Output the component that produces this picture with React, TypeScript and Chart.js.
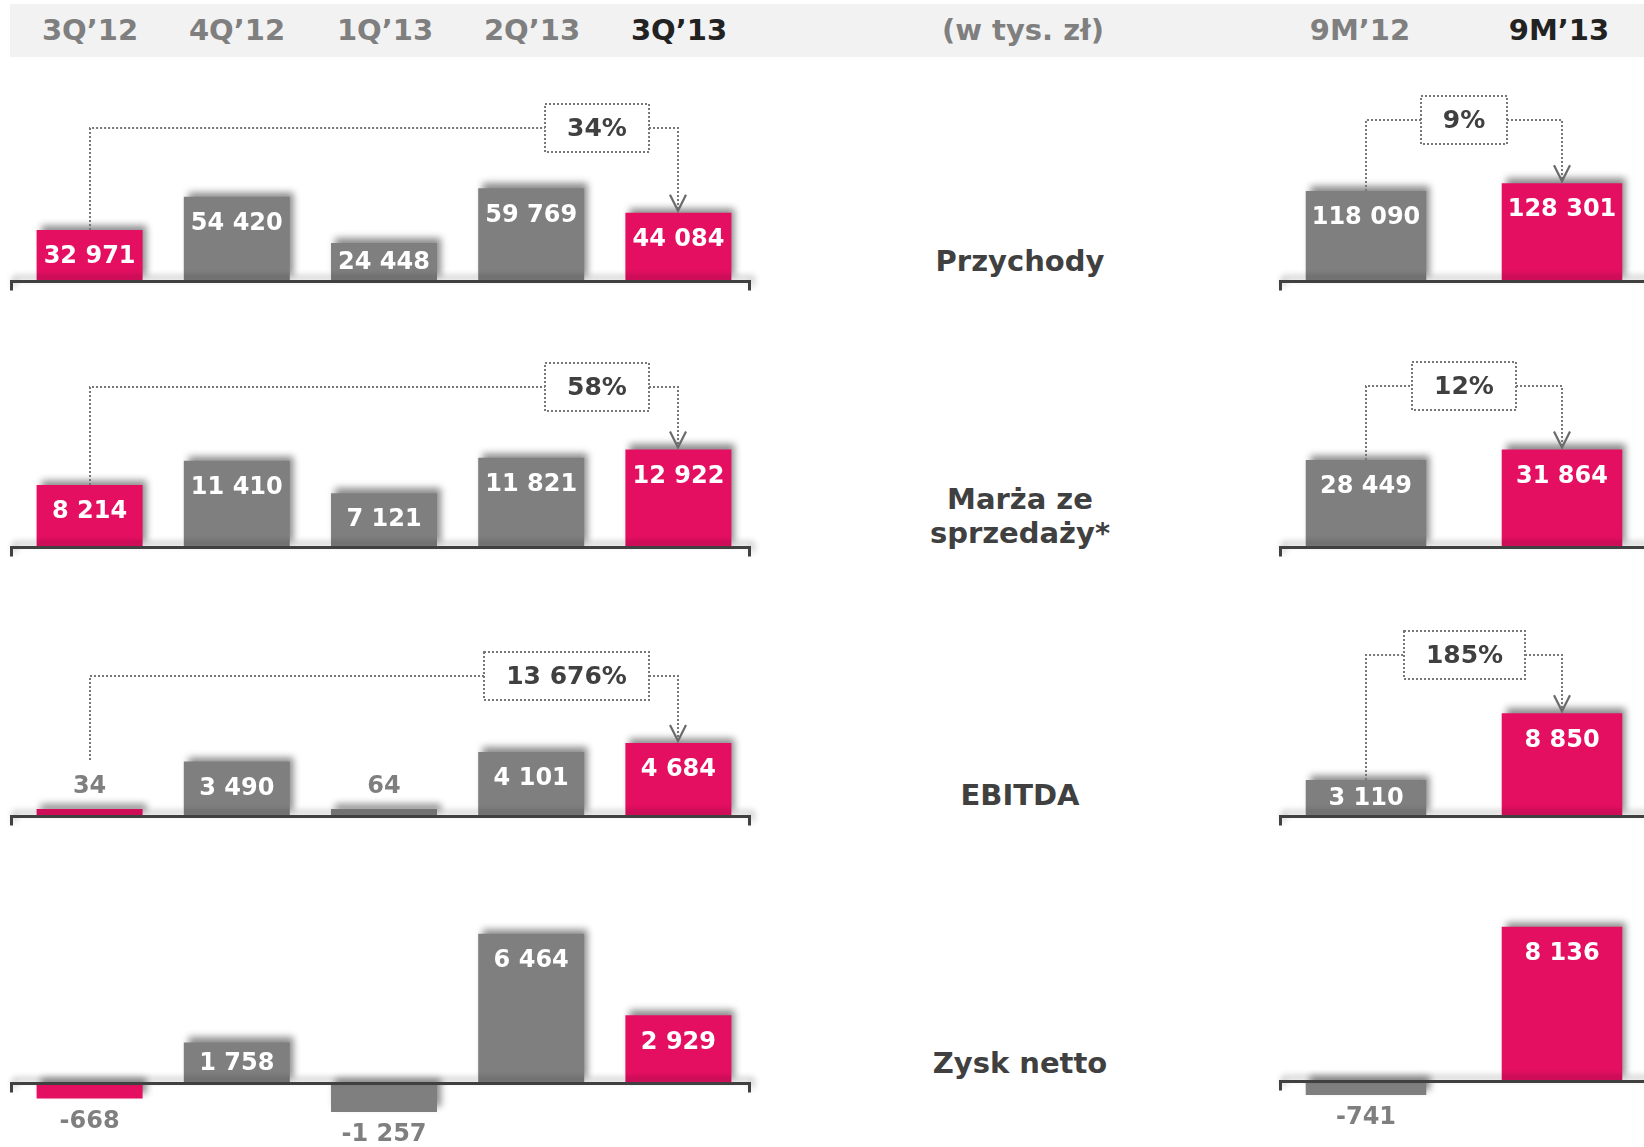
import React, { useEffect, useRef } from "react";
import { Chart, registerables } from "chart.js";

Chart.register(...registerables);

// ---------- data ----------
const quarters = ["3Q’12", "4Q’12", "1Q’13", "2Q’13", "3Q’13"];
const periods = ["9M’12", "9M’13"];
const unitLabel = "(w tys. zł)";
const metricNames = ["Przychody", "Marża ze\nsprzedaży*", "EBITDA", "Zysk netto"];

const revenueQ = [32971, 54420, 24448, 59769, 44084];
const marginQ = [8214, 11410, 7121, 11821, 12922];
const ebitdaQ = [34, 3490, 64, 4101, 4684];
const netQ = [-668, 1758, -1257, 6464, 2929];

const revenue9M = [118090, 128301];
const margin9M = [28449, 31864];
const ebitda9M = [3110, 8850];
const net9M = [-741, 8136];

const changeQ: (string | null)[] = ["34%", "58%", "13 676%", null];
const change9M: (string | null)[] = ["9%", "12%", "185%", null];

// ---------- styles ----------
const PINK = "#E50F62";
const GRAY = "#7F7F7F";
const DARK = "#404040";
const FONT = "'DejaVu Sans', Verdana, sans-serif";
const qColors = [PINK, GRAY, GRAY, GRAY, PINK];
const mColors = [GRAY, PINK];

const fmt = (n: number) => {
  const s = Math.abs(n).toString().replace(/\B(?=(\d{3})+(?!\d))/g, " ");
  return (n < 0 ? "-" : "") + s;
};

type PanelProps = {
  labels: string[];
  values: number[];
  colors: string[];
  left: number;
  top: number;
  width: number;
  height: number;
  padL: number;
  padR: number;
  zeroY: number;
  k: number;
  barFrac: number;
  axisL: number;
  axisR: number;
  rightTick: boolean;
  change: string | null;
  changeY: number;
  boxMode: "right" | "center";
  minBar: number;
};

function BarPanel(p: PanelProps) {
  const ref = useRef<HTMLCanvasElement>(null);
  useEffect(() => {
    const canvas = ref.current!;
    const zeroPx = p.zeroY - p.top;
    const yMax = zeroPx / p.k;
    const yMin = -(p.height - zeroPx) / p.k;

    const shadowPlugin = {
      id: "barShadow",
      beforeDatasetsDraw(chart: any) {
        const ctx = chart.ctx;
        ctx.save();
        ctx.shadowColor = "rgba(0,0,0,0.45)";
        ctx.shadowBlur = 7;
        ctx.shadowOffsetX = 4;
        ctx.shadowOffsetY = -5;
      },
      afterDatasetsDraw(chart: any) {
        chart.ctx.restore();
      },
    };

    const overlayPlugin = {
      id: "overlay",
      afterDraw(chart: any) {
        const ctx = chart.ctx as CanvasRenderingContext2D;
        const area = chart.chartArea;
        const y0 = Math.round(chart.scales.y.getPixelForValue(0)) + 0.5;
        // axis line
        ctx.save();
        ctx.shadowColor = "rgba(0,0,0,0.3)";
        ctx.shadowBlur = 6;
        ctx.shadowOffsetX = 3;
        ctx.shadowOffsetY = -4;
        ctx.strokeStyle = DARK;
        ctx.lineWidth = 3;
        ctx.beginPath();
        const xl = Math.round(area.left + p.axisL) + 0.5;
        const xr = Math.round(area.right + p.axisR) + 0.5;
        ctx.moveTo(xl, y0 + 9);
        ctx.lineTo(xl, y0);
        ctx.lineTo(xr, y0);
        if (p.rightTick) ctx.lineTo(xr, y0 + 9);
        ctx.stroke();
        ctx.restore();

        // value labels
        const meta = chart.getDatasetMeta(0);
        ctx.save();
        ctx.font = `bold 24px ${FONT}`;
        ctx.textAlign = "center";
        ctx.textBaseline = "middle";
        const labelPos: { y: number; outside: boolean }[] = [];
        meta.data.forEach((el: any, i: number) => {
          const v = p.values[i];
          const { x, y, base } = el.getProps(["x", "y", "base"], true);
          const txt = fmt(v);
          if (v < 0) {
            ctx.fillStyle = GRAY;
            ctx.fillText(txt, x, y + 23);
            labelPos.push({ y: y + 23, outside: true });
          } else {
            const h = base - y;
            if (h >= 28) {
              ctx.fillStyle = "#FFFFFF";
              const ly = Math.min(y + 27, (y + base) / 2 + 1);
              ctx.fillText(txt, x, ly);
              labelPos.push({ y: ly, outside: false });
            } else {
              ctx.fillStyle = GRAY;
              ctx.fillText(txt, x, y - 22);
              labelPos.push({ y: y - 22, outside: true });
            }
          }
        });
        ctx.restore();

        // change annotation
        if (p.change) {
          const first = meta.data[0].getProps(["x", "y"], true);
          const lastIdx = meta.data.length - 1;
          const last = meta.data[lastIdx].getProps(["x", "y"], true);
          const x1 = Math.round(first.x);
          const x2 = Math.round(last.x);
          const y1 = labelPos[0].outside && p.values[0] >= 0 ? labelPos[0].y - 27 : first.y;
          const tipY = last.y - 2;
          const ly = Math.round(p.changeY);
          ctx.save();
          ctx.font = `bold 25px ${FONT}`;
          const tw = ctx.measureText(p.change).width;
          const bw = Math.round(tw + 44);
          const bh = 48;
          let bl: number;
          if (p.boxMode === "right") {
            bl = x2 - 29 - bw;
          } else {
            bl = Math.round((x1 + x2) / 2 - bw / 2);
          }
          const br = bl + bw;
          ctx.strokeStyle = "#777777";
          ctx.lineWidth = 2;
          ctx.setLineDash([2, 2]);
          ctx.beginPath();
          ctx.moveTo(x1, y1);
          ctx.lineTo(x1, ly);
          ctx.lineTo(bl, ly);
          ctx.moveTo(br, ly);
          ctx.lineTo(x2, ly);
          ctx.lineTo(x2, tipY - 2);
          ctx.stroke();
          ctx.strokeRect(bl, ly - bh / 2, bw, bh);
          ctx.setLineDash([]);
          ctx.strokeStyle = "#6A6A6A";
          ctx.lineWidth = 2.2;
          ctx.beginPath();
          ctx.moveTo(x2 - 8, tipY - 16);
          ctx.lineTo(x2, tipY);
          ctx.lineTo(x2 + 8, tipY - 16);
          ctx.stroke();
          ctx.fillStyle = DARK;
          ctx.textAlign = "center";
          ctx.textBaseline = "middle";
          ctx.fillText(p.change, (bl + br) / 2, ly + 1);
          ctx.restore();
        }
      },
    };

    const chart = new Chart(canvas, {
      type: "bar",
      data: {
        labels: p.labels,
        datasets: [
          {
            data: p.values,
            backgroundColor: p.colors,
            borderWidth: 0,
            barPercentage: 1,
            categoryPercentage: p.barFrac,
            minBarLength: p.minBar,
            clip: false as any,
          },
        ],
      },
      options: {
        responsive: false,
        animation: false,
        layout: { padding: { left: p.padL, right: p.padR, top: 0, bottom: 0 } },
        plugins: { legend: { display: false }, tooltip: { enabled: false } },
        scales: {
          x: { display: false },
          y: { display: false, min: yMin, max: yMax },
        },
      },
      plugins: [shadowPlugin, overlayPlugin],
    });
    return () => chart.destroy();
  }, []);
  return (
    <canvas
      ref={ref}
      width={p.width}
      height={p.height}
      style={{ position: "absolute", left: p.left, top: p.top, width: p.width, height: p.height }}
    />
  );
}

const rows = [
  { q: revenueQ, m: revenue9M, top: 70, height: 250, zeroL: 281, zeroR: 281, kL: 0.00155, kR: 0.000762, cy: 128, cyR: 119.5 },
  { q: marginQ, m: margin9M, top: 330, height: 260, zeroL: 547, zeroR: 547, kL: 0.00755, kR: 0.00306, cy: 387, cyR: 386 },
  { q: ebitdaQ, m: ebitda9M, top: 595, height: 265, zeroL: 816, zeroR: 816, kL: 0.0156, kR: 0.0116, cy: 676, cyR: 655 },
  { q: netQ, m: net9M, top: 862, height: 285, zeroL: 1083, zeroR: 1081, kL: 0.0231, kR: 0.01895, cy: 0, cyR: 0 },
];
const metricY = [[261], [499, 533], [795], [1063]];
const headerQX = [90, 237, 385, 532, 679];
const headerMX = [1360, 1559];

export default function App() {
  const textStyle = (x: number, y: number, color: string): React.CSSProperties => ({
    position: "absolute",
    left: x,
    top: y,
    transform: "translate(-50%, -50%)",
    font: `bold 29px ${FONT}`,
    color,
    whiteSpace: "nowrap",
    lineHeight: "34px",
  });
  return (
    <div
      style={{
        position: "absolute",
        left: 0,
        top: 0,
        width: 1644,
        height: 1147,
        overflow: "hidden",
        background: "#FFFFFF",
      }}
    >
      <div style={{ position: "absolute", left: 10, top: 4, width: 1634, height: 53, background: "#F2F2F2" }} />
      {quarters.map((q, i) => (
        <div key={q} style={textStyle(headerQX[i], 30, i === quarters.length - 1 ? "#222222" : GRAY)}>
          {q}
        </div>
      ))}
      <div style={textStyle(1023, 30, GRAY)}>{unitLabel}</div>
      {periods.map((q, i) => (
        <div key={q} style={textStyle(headerMX[i], 30, i === periods.length - 1 ? "#222222" : GRAY)}>
          {q}
        </div>
      ))}
      {metricNames.map((name, i) =>
        name.split("\n").map((line, j) => (
          <div key={name + j} style={textStyle(1020, metricY[i][j], DARK)}>
            {line}
          </div>
        ))
      )}
      {rows.map((r, i) => (
        <React.Fragment key={i}>
          <BarPanel
            labels={quarters}
            values={r.q}
            colors={qColors}
            left={0}
            top={r.top}
            width={770}
            height={r.height}
            padL={16}
            padR={18}
            zeroY={r.zeroL}
            k={r.kL}
            barFrac={0.72}
            axisL={-5.5}
            axisR={-3.4}
            rightTick={true}
            change={changeQ[i]}
            changeY={r.cy - r.top}
            boxMode="right"
            minBar={7}
          />
          <BarPanel
            labels={periods}
            values={r.m}
            colors={mColors}
            left={1268}
            top={r.top}
            width={392}
            height={r.height}
            padL={0}
            padR={0}
            zeroY={r.zeroR}
            k={r.kR}
            barFrac={0.615}
            axisL={12}
            axisR={0}
            rightTick={false}
            change={change9M[i]}
            changeY={r.cyR - r.top}
            boxMode="center"
            minBar={7}
          />
        </React.Fragment>
      ))}
    </div>
  );
}
